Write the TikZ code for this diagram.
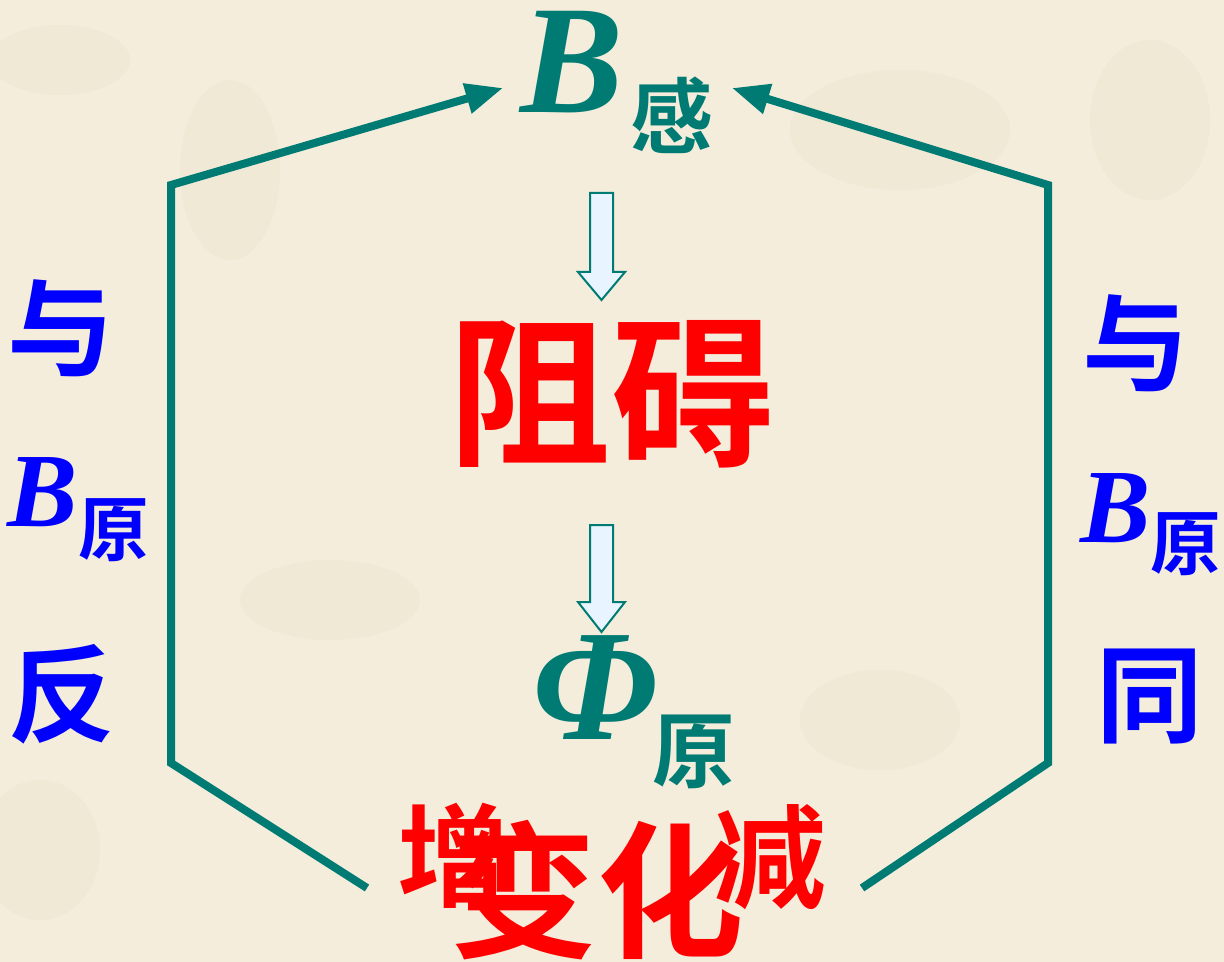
\documentclass[tikz,border=0pt]{standalone}
\usepackage{fontspec}
\setmainfont{Liberation Serif}
\newfontfamily\cjk{Noto Sans CJK SC}[BoldFont={* Bold}]
\usetikzlibrary{arrows.meta}
\definecolor{teal}{HTML}{007B74}
\definecolor{bg}{HTML}{F4EDDB}
\definecolor{blotch}{HTML}{EBE2CC}
\definecolor{pale}{HTML}{E8F4FF}
\newcommand{\fs}[1]{\fontsize{#1}{#1}\selectfont}
\tikzset{
  txt/.style={inner sep=0pt, outer sep=0pt},
  latin/.style={txt, font=\bfseries\itshape},
  han/.style={txt, font=\cjk\bfseries},
  link/.style={draw=teal, line width=6pt, line join=miter},
  linkarrow/.style={link, -{Triangle[length=28pt,width=22pt]}},
  hollow/.style={draw=teal, fill=pale, line width=1.5pt, line join=miter}
}
\begin{document}
\begin{tikzpicture}[x=0.75pt,y=-0.75pt]
\useasboundingbox (0,0) rectangle (1224,962);
\fill[bg] (0,0) rectangle (1224,962);
% faint background texture
\begin{scope}[blotch, opacity=0.35]
\fill (60,60) ellipse (70 and 35);
\fill (230,170) ellipse (50 and 90);
\fill (900,130) ellipse (110 and 60);
\fill (1150,120) ellipse (60 and 80);
\fill (330,600) ellipse (90 and 40);
\fill (880,720) ellipse (80 and 50);
\fill (40,850) ellipse (60 and 70);
\end{scope}

% top B_感
\node[latin, teal, font=\bfseries\itshape\fs{116pt}] (Btop) at (572,62) {B};
\node[han, teal, font=\cjk\bfseries\fs{62pt}] (gan) at (672,115) {感};

% hollow arrow 1
\draw[hollow] (590,193) -- (613,193) -- (613,272) -- (625,272) -- (601.5,300) -- (578,272) -- (590,272) -- cycle;

% 阻碍
\node[han, red, font=\cjk\bfseries\fs{122pt}] (zuai) at (611,394) {阻碍};

% hollow arrow 2
\draw[hollow] (590,525) -- (613,525) -- (613,602) -- (625,602) -- (601.5,632) -- (578,602) -- (590,602) -- cycle;

% Phi_原
\node[latin, teal, font=\bfseries\itshape\fs{119pt}] (phi) at (595,688) {Φ};
\node[han, teal, font=\cjk\bfseries\fs{62pt}] (yuanphi) at (694,752) {原};

% bottom 增 变化 减
\node[han, red, font=\cjk\bfseries\fs{84pt}] (zeng) at (453,856) {增};
\node[han, red, font=\cjk\bfseries\fs{84pt}] (jian) at (770,857) {减};
\node[han, red, font=\cjk\bfseries\fs{110pt}] (bianhua) at (597,890) {变化};

% left column
\node[han, blue, font=\cjk\bfseries\fs{80pt}] (yuL) at (61,328) {与};
\node[latin, blue, font=\bfseries\itshape\fs{79pt}] (BL) at (43,492) {B};
\node[han, blue, font=\cjk\bfseries\fs{53pt}] (yuanL) at (114,530) {原};
\node[han, blue, font=\cjk\bfseries\fs{80pt}] (fan) at (62,694) {反};

% right column
\node[han, blue, font=\cjk\bfseries\fs{80pt}] (yuR) at (1136,343) {与};
\node[latin, blue, font=\bfseries\itshape\fs{79pt}] (BR) at (1116,508) {B};
\node[han, blue, font=\cjk\bfseries\fs{53pt}] (yuanR) at (1186,544) {原};
\node[han, blue, font=\cjk\bfseries\fs{80pt}] (tong) at (1150,697) {同};

% connector coordinates
\coordinate (l0) at (367,888);
\coordinate (l1) at (171,763);
\coordinate (l2) at (171,185);
\coordinate (lt) at (503,88);
\coordinate (r0) at (862,888);
\coordinate (r1) at (1048,763);
\coordinate (r2) at (1048,185);
\coordinate (rt) at (732,88);

\draw[linkarrow] (l0) -- (l1) -- (l2) -- (lt);
\draw[linkarrow] (r0) -- (r1) -- (r2) -- (rt);
\end{tikzpicture}
\end{document}
